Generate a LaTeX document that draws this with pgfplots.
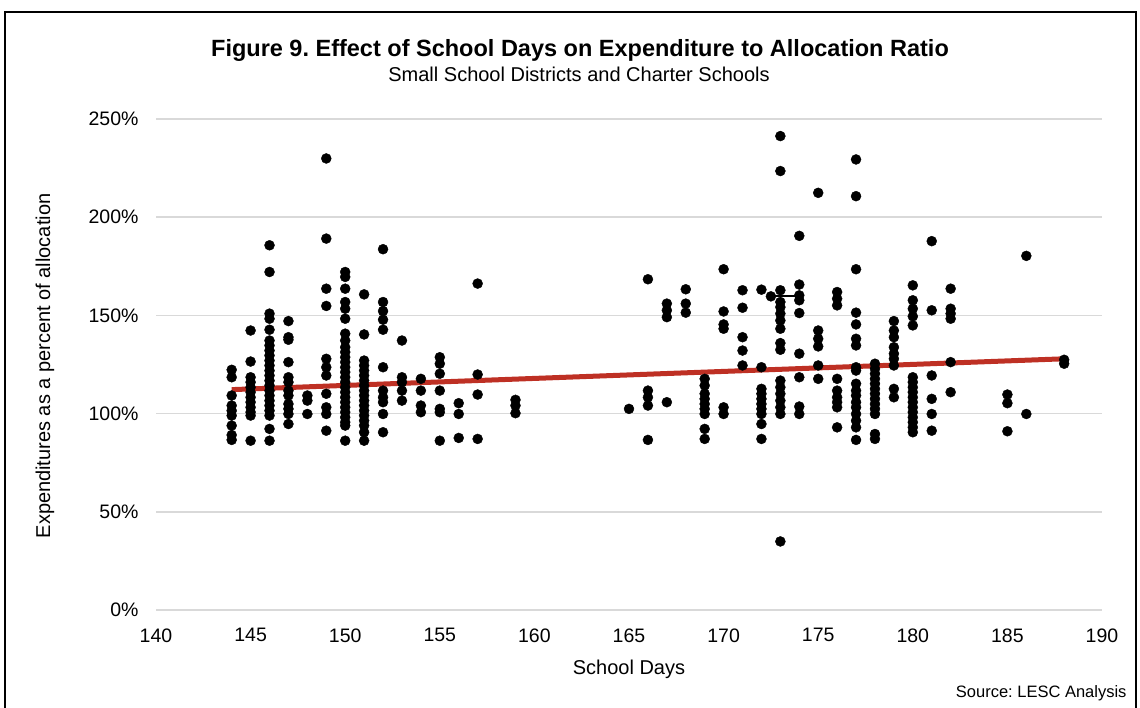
\documentclass[border=0pt]{standalone}
\usepackage{fontspec}
\setmainfont{Liberation Sans}
\usepackage{pgfplots}
\pgfplotsset{compat=1.18}
\definecolor{trend}{RGB}{190,48,36}
\definecolor{gridc}{RGB}{217,217,217}
\frenchspacing
\begin{document}
\begin{tikzpicture}[x=1pt,y=1pt]
\useasboundingbox (0,0) rectangle (1140,708);
\draw[line width=1.5pt] (5,-5) -- (5,696) -- (1136,696) -- (1136,-5);
\node[anchor=base, font=\bfseries\fontsize{23.5}{27}\selectfont] at (580,651.5) {Figure 9. Effect of School Days on Expenditure to Allocation Ratio};
\node[anchor=base, font=\fontsize{20}{24}\selectfont] at (579,626) {Small School Districts and Charter Schools};
\begin{axis}[
  at={(156pt,98pt)}, anchor=south west, scale only axis,
  width=946pt, height=491pt,
  xmin=140, xmax=190, ymin=0, ymax=250,
  xtick={140,145,...,190}, ytick={0,50,...,250},
  yticklabel={\pgfmathprintnumber{\tick}\%},
  /pgf/number format/assume math mode=true,
  axis line style={draw=none},
  major tick length=0pt,
  ymajorgrids, grid style={gridc, line width=1.5pt},
  tick label style={font=\fontsize{19.5}{23}\selectfont},
  xticklabel shift=15pt, yticklabel shift=14pt,
  clip=false,
]
\addplot[only marks, mark=*, mark size=5pt, black] table[x=x,y=y] {
x y
144 122.3
144 118.5
144 109.2
144 104.1
144 101.5
144 99
144 93.9
144 89.1
144 86.6
145 142.3
145 126.5
145 118.5
145 116
145 113.4
145 110.9
145 108.3
145 105.8
145 103.2
145 100.7
145 99
145 86.2
146 185.7
146 172.1
146 150.9
146 148.3
146 142.7
146 137.2
146 134.7
146 132.1
146 129.6
146 127
146 124.5
146 121.9
146 119.4
146 116.8
146 114.3
146 111.7
146 109.2
146 106.6
146 104.1
146 101.5
146 99
146 92.2
146 86.2
147 147.1
147 138.9
147 137.6
147 126.2
147 118.5
147 116
147 111.7
147 109.2
147 104.9
147 102.4
147 99.8
147 94.7
148 109.2
148 106.6
148 99.8
149 229.9
149 189.1
149 163.6
149 154.8
149 127.9
149 123.6
149 119.4
149 110.1
149 103.2
149 99.8
149 91.3
150 172.1
150 169.6
150 163.6
150 156.8
150 153.4
150 148.3
150 140.7
150 137.2
150 133.8
150 131.3
150 128.7
150 126.2
150 123.6
150 121.1
150 118.5
150 116
150 113.4
150 110.9
150 108.3
150 105.8
150 103.2
150 100.7
150 98.1
150 95.6
150 93.9
150 86.2
151 160.7
151 140.3
151 127
151 124.5
151 121.9
151 119.4
151 116.8
151 114.3
151 111.7
151 109.2
151 106.6
151 104.1
151 101.5
151 99
151 96.4
151 93.9
151 90.5
151 86.2
152 183.7
152 156.8
152 152.2
152 147.8
152 142.7
152 123.6
152 111.7
152 108.3
152 105.8
152 99.8
152 90.5
153 137.2
153 118.5
153 116
153 111.7
153 106.6
154 117.7
154 111.7
154 104.1
154 100.7
155 128.7
155 125.4
155 120.3
155 111.7
155 102.4
155 100.7
155 86.2
156 105.3
156 99.8
156 87.6
157 166.2
157 119.9
157 109.7
157 87.1
159 107
159 104.1
159 100.2
165 102.4
166 168.4
166 111.7
166 108.3
166 104.1
166 86.6
167 156
167 152.6
167 149.1
167 105.8
168 163.3
168 156
168 151.4
169 117.7
169 114.3
169 110.1
169 107.5
169 104.9
169 102.4
169 99.8
169 92.2
169 87.1
170 173.5
170 152
170 145.4
170 143.2
170 103.2
170 99.8
171 162.8
171 153.9
171 138.9
171 132.1
171 124.5
172 163.1
172 123.6
172 112.6
172 110.1
172 107.5
172 104.9
172 102.4
172 99.8
172 94.7
172 87.1
172.5 159.7
173 241.3
173 223.5
173 162.8
173 156.8
173 154.2
173 150.9
173 147.4
173 143.2
173 135.9
173 132.5
173 116.8
173 113.4
173 110.1
173 106.6
173 103.2
173 99.8
173 34.9
174 190.5
174 165.7
174 160.2
174 157.7
174 151.2
174 130.5
174 118.5
174 103.6
174 99.8
175 212.4
175 142.3
175 138.1
175 134.2
175 124.5
175 117.7
176 161.9
176 158.5
176 155.1
176 117.7
176 111.7
176 108.3
176 105.8
176 103.2
176 93
177 229.4
177 210.7
177 173.5
177 151.4
177 145.4
177 138.1
177 134.7
177 123.6
177 121.9
177 115.2
177 111.7
177 109.2
177 105.8
177 103.2
177 99.8
177 96.4
177 93
177 86.6
178 125.4
178 122.8
178 120.3
178 117.7
178 115.2
178 112.6
178 110.1
178 107.5
178 104.9
178 102.4
178 99.8
178 89.6
178 87.1
179 147.1
179 142.3
179 138.9
179 133.8
179 130.5
179 127.9
179 124.5
179 112.6
179 108.3
180 165.3
180 157.7
180 153.4
180 149.5
180 144.9
180 118.5
180 116
180 113.4
180 110.9
180 108.3
180 105.8
180 103.2
180 100.7
180 98.1
180 95.6
180 93
180 90.5
181 187.8
181 152.6
181 119.4
181 107.5
181 99.8
181 91.3
182 163.6
182 153.4
182 150.9
182 148.3
182 126.2
182 110.9
185 109.7
185 105.3
185 91
186 180.3
186 99.8
188 127.4
188 125.4
};
\addplot[black, line width=1.5pt] coordinates {(172.5,160) (173.8,160)};
\addplot[trend, line width=5pt] coordinates {(144,112.2) (188,127.9)};
\end{axis}
\node[rotate=90, font=\fontsize{20}{24}\selectfont] at (45,342) {Expenditures as a percent of allocation};
\node[anchor=base, font=\fontsize{20}{24}\selectfont] at (629,33) {School Days};
\node[anchor=base east, font=\fontsize{16.5}{20}\selectfont] at (1130,10) {Source: LESC Analysis};
\end{tikzpicture}
\end{document}
